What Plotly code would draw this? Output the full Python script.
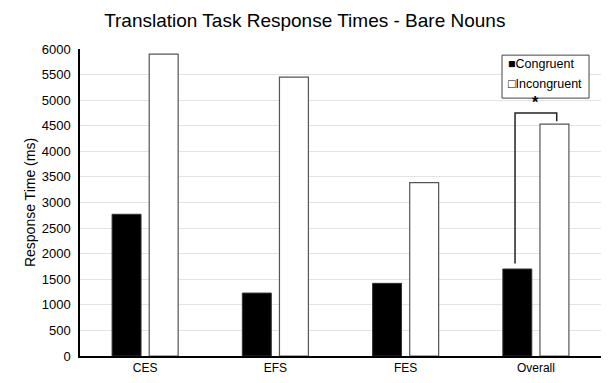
import plotly.graph_objects as go

categories = ["CES", "EFS", "FES", "Overall"]
congruent = [2770, 1230, 1420, 1700]
incongruent = [5900, 5450, 3390, 4530]
y_ticks = list(range(0, 6001, 500))
legend_labels = ["■Congruent", "□Incongruent"]

fig = go.Figure()
fig.add_trace(go.Bar(x=categories, y=congruent, name="Congruent", showlegend=False,
                     marker=dict(color="black", line=dict(color="#333", width=1))))
fig.add_trace(go.Bar(x=categories, y=incongruent, name="Incongruent", showlegend=False,
                     marker=dict(color="white", line=dict(color="#555", width=1.2))))

# significance bracket for "Overall"
idx = categories.index("Overall")
off = 0.16
top = max(incongruent[idx], congruent[idx]) + 220
fig.add_shape(type="path",
              path=f"M {idx-off},{congruent[idx]+110} L {idx-off},{top} L {idx+off},{top} L {idx+off},{incongruent[idx]+60}",
              xref="x", yref="y", line=dict(color="#222", width=1.5))
fig.add_annotation(x=idx, y=top, text="<b>*</b>", showarrow=False, yshift=10,
                   font=dict(size=16, color="black"))

# custom legend box
fig.add_shape(type="rect", xref="paper", yref="paper",
              x0=0.810, x1=0.977, y0=0.840, y1=0.980,
              line=dict(color="#444", width=1), fillcolor="white", layer="above")
for lab, yy in zip(legend_labels, [0.951, 0.886]):
    fig.add_annotation(xref="paper", yref="paper", x=0.818, y=yy, text=lab,
                       showarrow=False, xanchor="left", yanchor="middle",
                       font=dict(size=12.5, color="black"))

fig.update_layout(
    width=602, height=375,
    margin=dict(l=72, r=9, t=41, b=27),
    paper_bgcolor="white", plot_bgcolor="white",
    font=dict(family="Liberation Sans, Arial, sans-serif", color="black", size=12),
    title=dict(text="Translation Task Response Times - Bare Nouns", x=0.493, xref="container",
               xanchor="center", y=0.968, yanchor="middle", font=dict(size=19, color="black")),
    barmode="group", bargap=0.43, bargroupgap=0.22,
    showlegend=False,
    xaxis=dict(showline=True, linecolor="black", linewidth=1.5, ticks="",
               tickfont=dict(size=12)),
    yaxis=dict(range=[0, 6000], tickvals=y_ticks, showline=True, linecolor="black",
               linewidth=1.5, showgrid=True, gridcolor="#e3e3e3", gridwidth=1,
               zeroline=False, ticks="", tickfont=dict(size=13), ticklabelstandoff=5,
               title=dict(text="Response Time (ms)", font=dict(size=14), standoff=3)),
)

fig.write_html("out.html")
